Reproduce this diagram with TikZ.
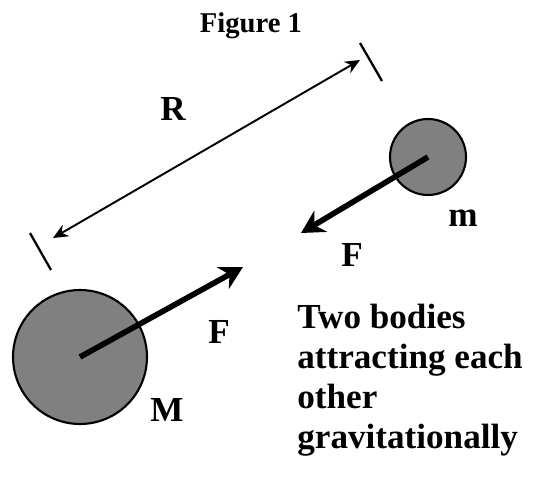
\documentclass[tikz,border=0pt]{standalone}
\usepackage{fontspec}
\setmainfont{Liberation Serif}
\usetikzlibrary{arrows.meta,positioning}

\begin{document}
\begin{tikzpicture}[
  x=0.02cm, y=-0.02cm,
  every node/.style={font=\bfseries\fontsize{20}{24}\selectfont},
  body/.style={circle,draw=black,line width=1.2pt,fill=black!50,inner sep=0pt},
  forcearrow/.style={-{Stealth[length=13pt,width=14pt]},line width=3.2pt},
  distarrow/.style={{Stealth[length=8.5pt,width=7.5pt]}-{Stealth[length=8.5pt,width=7.5pt]},
                    line width=1.1pt},
  endmark/.style={line width=1.3pt},
  caption/.style={align=left,anchor=north west,inner sep=0pt,
                  font=\bfseries\fontsize{20}{22.8}\selectfont}
]
\useasboundingbox (0,0) rectangle (541,481);

\node[font=\bfseries\fontsize{16.3}{19}\selectfont,anchor=base] (title) at (251,32) {Figure 1};

% the two bodies
\node[body,minimum size=2.68cm] (bigM) at (80,357) {};
\node[body,minimum size=1.52cm] (smallm) at (428,157) {};
\node (Mlbl) at (167,410) {M};
\node (mlbl) at (463,218) {m};

% separation R
\coordinate (Rleft)  at (53,238);
\coordinate (Rright) at (360,60);
\coordinate (markLa) at (30,233);
\coordinate (markLb) at (51,270);
\coordinate (markRa) at (360,43);
\coordinate (markRb) at (382,81);
\draw[distarrow] (Rleft) -- (Rright);
\draw[endmark] (markLa) -- (markLb);
\draw[endmark] (markRa) -- (markRb);
\node (Rlbl) at (173,109) {R};

% forces
\coordinate (FonM) at (243,267);
\coordinate (Fonm) at (301,233);
\draw[forcearrow] (bigM.center) -- (FonM);
\draw[forcearrow] (smallm.center) -- (Fonm);
\node (FMlbl) at (219,332) {F};
\node (Fmlbl) at (352,255) {F};

\node[caption] (note) at (297,304)
  {Two bodies\\attracting each\\other\\gravitationally};
\end{tikzpicture}
\end{document}
